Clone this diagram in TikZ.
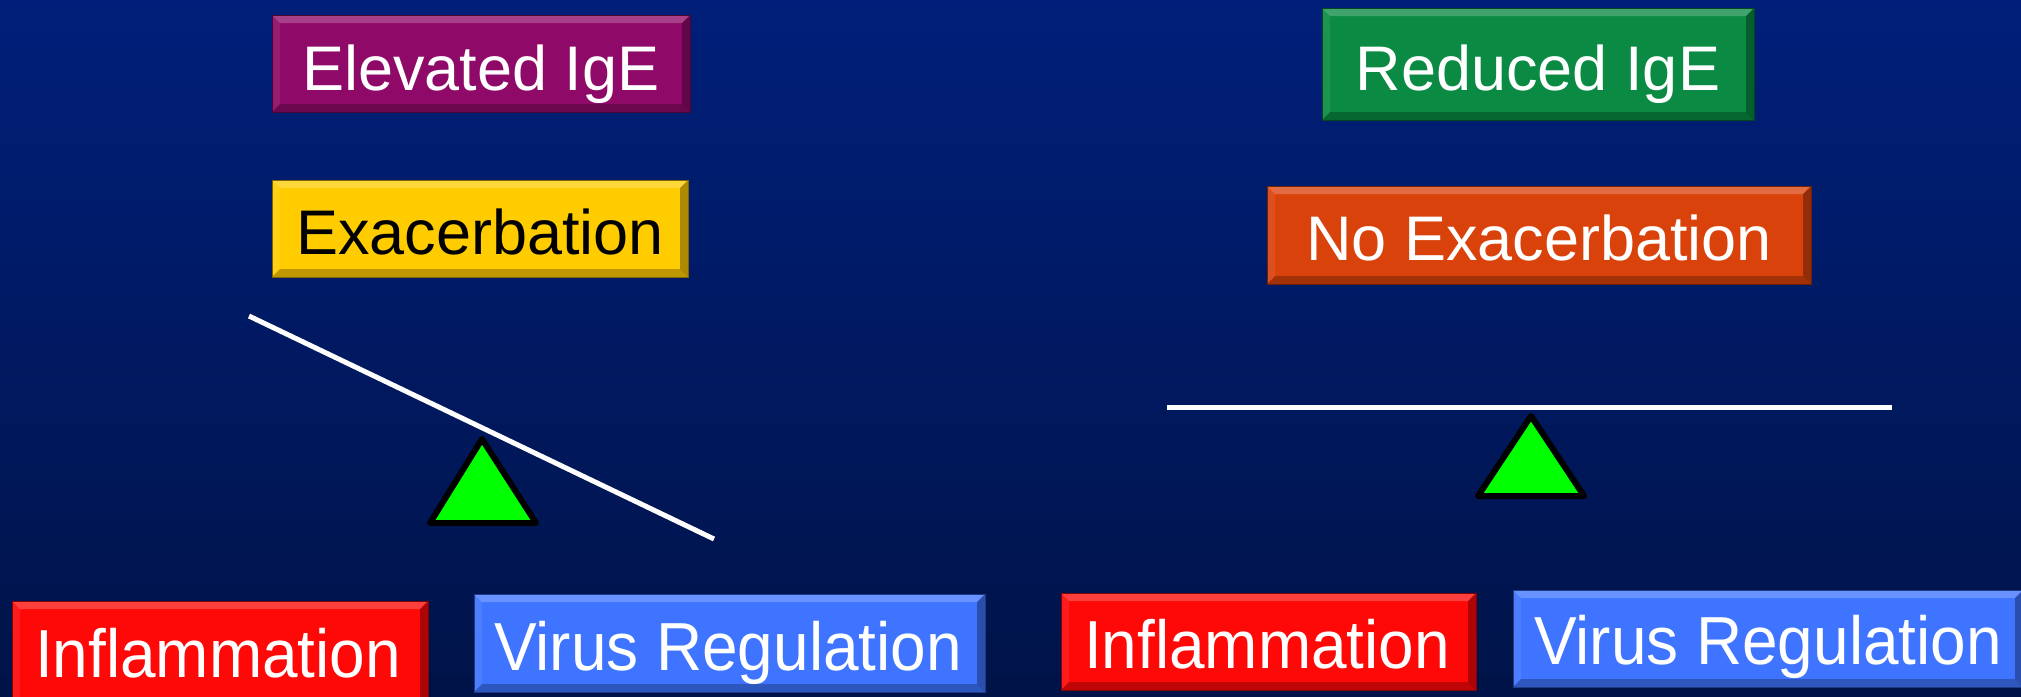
\documentclass[tikz,border=0pt]{standalone}
\usepackage{fontspec}
\setmainfont{Liberation Sans}
\definecolor{bgtop}{RGB}{0,31,122}
\definecolor{bgbot}{RGB}{0,19,72}
\definecolor{cpurple}{RGB}{143,10,104}
\definecolor{cyellow}{RGB}{255,204,0}
\definecolor{cgreen}{RGB}{10,138,66}
\definecolor{corange}{RGB}{218,66,12}
\definecolor{cred}{RGB}{255,8,8}
\definecolor{cblue}{RGB}{62,116,255}
\definecolor{cgreenbright}{RGB}{0,255,0}
\tikzset{
  bevelbox/.style={rectangle, inner sep=0pt, fill=#1, draw=black!50!#1, line width=1pt,
    path picture={
      \fill[white,opacity=0.22] (path picture bounding box.north west) -- (path picture bounding box.north east)
        -- ([xshift=-8pt,yshift=-8pt]path picture bounding box.north east) -- ([xshift=8pt,yshift=-8pt]path picture bounding box.north west) -- cycle;
      \fill[white,opacity=0.08] (path picture bounding box.north west) -- ([xshift=8pt,yshift=-8pt]path picture bounding box.north west)
        -- ([xshift=8pt,yshift=8pt]path picture bounding box.south west) -- (path picture bounding box.south west) -- cycle;
      \fill[black,opacity=0.25] (path picture bounding box.south west) -- (path picture bounding box.south east)
        -- ([xshift=-8pt,yshift=8pt]path picture bounding box.south east) -- ([xshift=8pt,yshift=8pt]path picture bounding box.south west) -- cycle;
      \fill[black,opacity=0.32] (path picture bounding box.north east) -- ([xshift=-8pt,yshift=-8pt]path picture bounding box.north east)
        -- ([xshift=-8pt,yshift=8pt]path picture bounding box.south east) -- (path picture bounding box.south east) -- cycle;
    }},
  toptext/.style={anchor=base, inner sep=0pt, text=white, font=\fontsize{63}{70}\selectfont},
  bottext/.style={anchor=base, inner sep=0pt, text=white, font=\fontsize{68}{75}\selectfont, xscale=0.94},
  beam/.style={draw=white, line width=5pt},
  fulcrum/.style={draw=black, fill=cgreenbright, line width=6pt, line join=round}
}
\begin{document}
\begin{tikzpicture}[x=1pt,y=-1pt]
\shade[top color=bgtop, bottom color=bgbot] (0,0) rectangle (2021,696);
\useasboundingbox (0,0) rectangle (2021,696);
% left side
\node[bevelbox=cpurple, minimum width=418pt, minimum height=97pt] (b1) at (481,63.5) {};
\node[toptext] (t1) at (481,90) {Elevated IgE};
\node[bevelbox=cyellow, minimum width=416pt, minimum height=97pt] (b2) at (480,228.5) {};
\node[toptext, text=black] (t2) at (480,254) {Exacerbation};
\coordinate (l1) at (249,316);
\coordinate (l2) at (714,539);
\draw[beam] (l1) -- (l2);
\coordinate (a1) at (482,439);
\coordinate (a2) at (430,523);
\coordinate (a3) at (536,523);
\draw[fulcrum] (a1) -- (a2) -- (a3) -- cycle;
\node[bevelbox=cred, minimum width=416pt, minimum height=106pt] (b3) at (220,654) {};
\node[bottext] (t3) at (218,677) {Inflammation};
\node[bevelbox=cblue, minimum width=511pt, minimum height=98pt] (b4) at (729.5,643) {};
\node[bottext] (t4) at (728,670) {Virus Regulation};
% right side
\node[bevelbox=cgreen, minimum width=432pt, minimum height=112pt] (b5) at (1538,64) {};
\node[toptext] (t5) at (1538,90) {Reduced IgE};
\node[bevelbox=corange, minimum width=544pt, minimum height=98pt] (b6) at (1539,235) {};
\node[toptext] (t6) at (1539,260) {No Exacerbation};
\coordinate (r1) at (1167,407);
\coordinate (r2) at (1892,407);
\draw[beam] (r1) -- (r2);
\coordinate (c1) at (1531,416);
\coordinate (c2) at (1478,496);
\coordinate (c3) at (1584,496);
\draw[fulcrum] (c1) -- (c2) -- (c3) -- cycle;
\node[bevelbox=cred, minimum width=415pt, minimum height=97pt] (b7) at (1268.5,641.5) {};
\node[bottext] (t7) at (1267,668) {Inflammation};
\node[bevelbox=cblue, minimum width=510pt, minimum height=97pt] (b8) at (1768,638.5) {};
\node[bottext] (t8) at (1768,664) {Virus Regulation};
\end{tikzpicture}
\end{document}
